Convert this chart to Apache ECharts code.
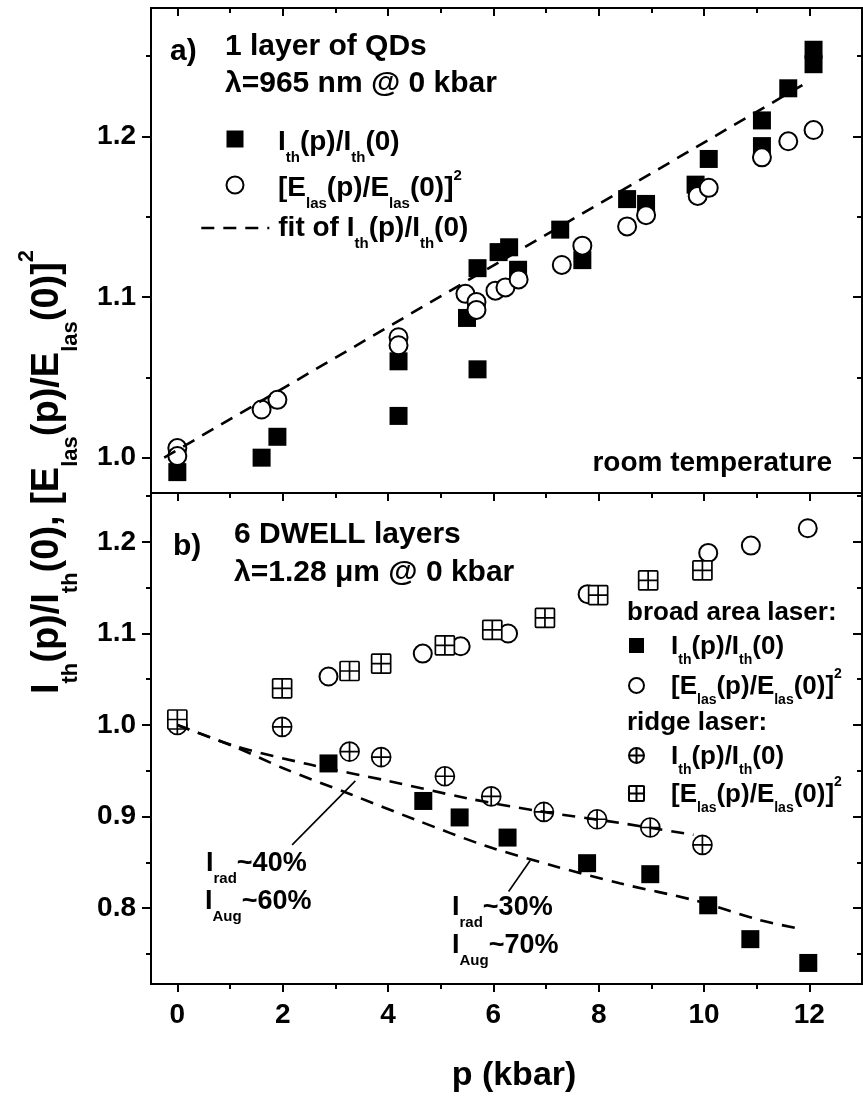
<!DOCTYPE html>
<html><head><meta charset="utf-8">
<script src="https://cdn.jsdelivr.net/npm/echarts@6/dist/echarts.min.js"></script>
<style>html,body{margin:0;padding:0;background:#fff}#c{width:863px;height:1096px}</style>
</head><body><div id="c"></div>
<script>
// ---------- tick values ----------
const xMajorTicks = [0, 2, 4, 6, 8, 10, 12];
const xMinorTicks = [1, 3, 5, 7, 9, 11];
const yTopMajorTicks = [1.0, 1.1, 1.2];
const yTopMinorTicks = [1.05, 1.15, 1.25];
const yBotMajorTicks = [0.8, 0.9, 1.0, 1.1, 1.2];
const yBotMinorTicks = [0.75, 0.85, 0.95, 1.05, 1.15, 1.25];

// ---------- panel a) 1 layer of QDs ----------
const qdIth = [[0,0.991],[1.6,1.0],[1.9,1.013],[4.2,1.026],[4.2,1.06],[5.5,1.087],[5.7,1.055],[5.7,1.118],
  [6.1,1.128],[6.3,1.131],[6.47,1.117],[7.27,1.142],[7.69,1.123],[8.54,1.161],[8.9,1.158],[9.84,1.17],
  [10.09,1.186],[11.1,1.194],[11.1,1.21],[11.6,1.23],[12.08,1.245],[12.08,1.254]];
const qdElas = [[0,1.006],[0,1.001],[1.6,1.03],[1.9,1.036],[4.2,1.075],[4.2,1.07],[5.47,1.102],[5.68,1.097],
  [5.68,1.092],[6.04,1.104],[6.23,1.106],[6.48,1.111],[7.3,1.12],[7.69,1.132],[8.54,1.144],[8.9,1.151],
  [9.88,1.163],[10.09,1.168],[11.1,1.187],[11.6,1.197],[12.08,1.204]];
const qdFit = [[-0.25,1.0],[12.0,1.2345]];

// ---------- panel b) 6 DWELL layers ----------
const broadIth = [[2.87,0.958],[4.67,0.917],[5.36,0.899],[6.27,0.877],[7.78,0.849],[8.98,0.837],[10.08,0.803],[10.88,0.766],[11.98,0.74]];
const broadElas = [[0,1.0],[2.87,1.053],[4.66,1.078],[5.38,1.086],[6.28,1.1],[7.79,1.143],[10.08,1.188],[10.89,1.196],[11.97,1.215]];
const ridgeIth = [[0,1.0],[1.99,0.998],[3.27,0.971],[3.87,0.965],[5.08,0.944],[5.96,0.922],[6.96,0.905],[7.97,0.897],[8.98,0.888],[9.97,0.869]];
const ridgeElas = [[0,1.006],[1.99,1.04],[3.27,1.059],[3.87,1.067],[5.08,1.087],[5.98,1.104],[6.98,1.117],[7.99,1.142],[8.94,1.158],[9.97,1.169]];
const fitRidge = [[0,1.0],[1.1,0.977],[2.5,0.957],[4.0,0.939],[5.5,0.92],[6.85,0.906],[8.4,0.893],[9.8,0.88]];
const fitBroad = [[0,1.0],[1.1,0.976],[2.0,0.953],[3.3,0.924],[4.5,0.897],[5.85,0.868],[7.15,0.846],[8.4,0.827],[9.85,0.808],[11.05,0.787],[11.85,0.777]];
const pointer40 = [[2.18,0.869],[3.38,0.939]];
const pointer30 = [[6.29,0.818],[6.70,0.852]];

// ---------- styling ----------
const FONT = '"Liberation Sans", Arial, Helvetica, sans-serif';
const X_MIN = -0.5, X_MAX = 13;
const TOP_MIN = 0.978, TOP_MAX = 1.28;
const BOT_MIN = 0.717, BOT_MAX = 1.2535;
const CROSS_CIRCLE = 'path://M10,0 A10,10 0 1,1 10,20 A10,10 0 1,1 10,0 Z M0,10 L20,10 M10,0 L10,20';
const CROSS_SQUARE = 'path://M1,0 L19,0 Q20,0 20,1 L20,19 Q20,20 19,20 L1,20 Q0,20 0,19 L0,1 Q0,0 1,0 Z M0,10 L20,10 M10,0 L10,20';

function mkRich(F, S, drop, rise) {
  const pm = Math.max(0, rise + S / 2 - F / 2) + 1;
  const base = {fontFamily: FONT, fontWeight: 'bold', color: '#000', verticalAlign: 'top'};
  return {F, pm, H: pm + F / 2 + drop + S / 2, styles: {
    m: Object.assign({}, base, {fontSize: F, lineHeight: F, padding: [pm, 0, 0, 0]}),
    s: Object.assign({}, base, {fontSize: S, lineHeight: S, padding: [pm + F / 2 + drop - S / 2, 0, 0, 0]}),
    u: Object.assign({}, base, {fontSize: S, lineHeight: S, padding: [pm + F / 2 - rise - S / 2, 0, 0, 0]})
  }};
}
const RT = mkRich(28, 15, 15, 13);
const RB = mkRich(26, 14, 14, 12);
const RA = mkRich(27, 15, 15, 13);
const RY = mkRich(38, 22, 23, 21);

const ITH = '{m|I}{s|th}{m|(p)/I}{s|th}{m|(0)}';
const ELAS = '{m|[E}{s|las}{m|(p)/E}{s|las}{m|(0)]}{u|2}';
const LABELS = {
  a_Ith: ITH, a_E: ELAS, a_fit: '{m|fit of I}{s|th}{m|(p)/I}{s|th}{m|(0)}',
  b_Ith: ITH, b_E: ELAS, r_Ith: ITH, r_E: ELAS
};

function xAx(grid, pos, ticks, len, inside, labels) {
  return {type: 'value', gridIndex: grid, position: pos, min: X_MIN, max: X_MAX,
    axisLine: {show: false, onZero: false}, splitLine: {show: false}, minorTick: {show: false},
    axisTick: {show: true, inside: inside, length: len, customValues: ticks, lineStyle: {color: '#000', width: 2}},
    axisLabel: labels ? {show: true, customValues: ticks, margin: 17, color: '#000', fontSize: 28,
      fontWeight: 'bold', fontFamily: FONT, formatter: v => String(v)} : {show: false}};
}
function yAx(grid, pos, mn, mx, ticks, len, inside, labels) {
  return {type: 'value', gridIndex: grid, position: pos, min: mn, max: mx,
    axisLine: {show: false, onZero: false}, splitLine: {show: false}, minorTick: {show: false},
    axisTick: {show: true, inside: inside, length: len, customValues: ticks, lineStyle: {color: '#000', width: 2}},
    axisLabel: labels ? {show: true, customValues: ticks, margin: 15, color: '#000', fontSize: 28,
      fontWeight: 'bold', fontFamily: FONT, formatter: v => v.toFixed(1)} : {show: false}};
}

const filledSq = {color: '#000', opacity: 1};
const openSym = {color: '#fff', borderColor: '#000', borderWidth: 2, opacity: 1};
const crossSym = {color: '#fff', borderColor: '#000', borderWidth: 1.7, opacity: 1};
const dash = {color: '#000', width: 2.6, type: [13, 9]};

function sc(name, data, xi, yi, symbol, size, style) {
  return {type: 'scatter', name, data, xAxisIndex: xi, yAxisIndex: yi, symbol, symbolSize: size,
    itemStyle: style, silent: true, animation: false};
}
function ln(name, data, xi, yi, smooth, extra) {
  return Object.assign({type: 'line', name, data, xAxisIndex: xi, yAxisIndex: yi, symbol: 'none',
    smooth: smooth, lineStyle: dash, itemStyle: {color: '#000'}, silent: true, animation: false}, extra || {});
}

function rtext(text, x, yMain, R, align, extra) {
  return Object.assign({type: 'text', x: x, y: yMain - R.pm - R.F / 2, z: 100, silent: true,
    style: {text, rich: R.styles, align: align || 'left', textAlign: align || 'left',
      verticalAlign: 'top', textVerticalAlign: 'top', fill: '#000'}}, extra || {});
}
function ptext(text, x, y, size, align) {
  return {type: 'text', x, y, z: 100, silent: true,
    style: {text, fill: '#000', font: 'bold ' + size + 'px ' + FONT, align: align || 'left',
      textAlign: align || 'left', verticalAlign: 'middle', textVerticalAlign: 'middle'}};
}
// padB: extra bottom padding of the label block, shifts the icon down relative to its label
function legendBox(data, iconCx, top, pitch, R, iconSize, textX, padB) {
  const left = iconCx - iconSize / 2;
  return {data, orient: 'vertical', left: left, top: top, padding: 0,
    itemWidth: iconSize, itemHeight: iconSize, itemGap: pitch - R.H, selectedMode: false,
    formatter: n => LABELS[n],
    textStyle: {rich: R.styles, padding: [0, 0, padB, textX - (left + iconSize + 5)]}};
}

const chart = echarts.init(document.getElementById('c'), null, {renderer: 'canvas'});
chart.setOption({
  animation: false,
  backgroundColor: '#fff',
  grid: [
    {left: 151, top: 8, width: 711, height: 485, show: true, borderColor: '#000', borderWidth: 2, containLabel: false, outerBoundsMode: 'none'},
    {left: 151, top: 493, width: 711, height: 491, show: true, borderColor: '#000', borderWidth: 2, containLabel: false, outerBoundsMode: 'none'}
  ],
  xAxis: [
    xAx(0, 'top', xMajorTicks, 8, true, false),
    xAx(0, 'top', xMinorTicks, 5, true, false),
    xAx(1, 'bottom', xMajorTicks, 8, false, true),
    xAx(1, 'bottom', xMinorTicks, 5, false, false),
    xAx(1, 'top', xMajorTicks, 8, true, false),
    xAx(1, 'top', xMinorTicks, 5, true, false)
  ],
  yAxis: [
    yAx(0, 'left', TOP_MIN, TOP_MAX, yTopMajorTicks, 9, false, true),
    yAx(0, 'left', TOP_MIN, TOP_MAX, yTopMinorTicks, 5, false, false),
    yAx(0, 'right', TOP_MIN, TOP_MAX, yTopMajorTicks, 9, true, false),
    yAx(0, 'right', TOP_MIN, TOP_MAX, yTopMinorTicks, 5, true, false),
    yAx(1, 'left', BOT_MIN, BOT_MAX, yBotMajorTicks, 9, false, true),
    yAx(1, 'left', BOT_MIN, BOT_MAX, yBotMinorTicks, 5, false, false),
    yAx(1, 'right', BOT_MIN, BOT_MAX, yBotMajorTicks, 9, true, false),
    yAx(1, 'right', BOT_MIN, BOT_MAX, yBotMinorTicks, 5, true, false)
  ],
  legend: [
    legendBox(['a_Ith', 'a_E'], 234, 121, 46, RT, 17, 277, 8),
    Object.assign(legendBox([{name: 'a_fit', itemStyle: {opacity: 0}}], 234, 207, 44, RT, 17, 277, 14),
      {left: 200, itemWidth: 68, textStyle: {rich: RT.styles, padding: [0, 0, 14, 4]}, lineStyle: {width: 2.6}}),
    legendBox(['b_Ith', 'b_E'], 635.5, 626.5, 40, RB, 15, 670, 12),
    legendBox(['r_Ith', 'r_E'], 635.5, 736.5, 38, RB, 15, 670, 12)
  ],
  series: [
    ln('a_fit', qdFit, 0, 0, false),
    sc('a_Ith', qdIth, 0, 0, 'rect', 18, filledSq),
    sc('a_E', qdElas, 0, 0, 'circle', 18, openSym),
    ln('r_fit', fitRidge, 2, 4, 0.3),
    ln('b_fit', fitBroad, 2, 4, 0.3, {markLine: {silent: true, animation: false, symbol: ['none', 'none'],
      label: {show: false}, lineStyle: {color: '#000', width: 1.6, type: 'solid'},
      data: [[{coord: pointer40[0]}, {coord: pointer40[1]}], [{coord: pointer30[0]}, {coord: pointer30[1]}]]}}),
    sc('b_Ith', broadIth, 2, 4, 'rect', 18, filledSq),
    sc('b_E', broadElas, 2, 4, 'circle', 18, openSym),
    sc('r_Ith', ridgeIth, 2, 4, CROSS_CIRCLE, 19, crossSym),
    sc('r_E', ridgeElas, 2, 4, CROSS_SQUARE, 19, crossSym)
  ],
  graphic: [
    ptext('a)', 170, 52, 30),
    ptext('1 layer of QDs', 225, 47, 30),
    ptext('\u03bb=965 nm @ 0 kbar', 225, 84, 30),
    ptext('room temperature', 832, 463, 28, 'right'),
    ptext('b)', 173, 547, 30),
    ptext('6 DWELL layers', 234, 535, 30),
    ptext('\u03bb=1.28 \u03bcm @ 0 kbar', 234, 573, 30),
    ptext('broad area laser:', 627, 613, 26),
    ptext('ridge laser:', 627, 723, 26),
    rtext('{m|I}{s|rad}{m|~40%}', 206, 864, RA),
    rtext('{m|I}{s|Aug}{m|~60%}', 205, 902, RA),
    rtext('{m|I}{s|rad}{m|~30%}', 452, 908, RA),
    rtext('{m|I}{s|Aug}{m|~70%}', 452, 946, RA),
    ptext('p (kbar)', 514, 1076, 34, 'center'),
    {type: 'text', x: 47.5 - RY.pm - RY.F / 2, y: 472, rotation: Math.PI / 2, z: 100, silent: true,
      style: {text: '{m|I}{s|th}{m|(p)/I}{s|th}{m|(0), [E}{s|las}{m|(p)/E}{s|las}{m|(0)]}{u|2}',
        rich: RY.styles, align: 'center', textAlign: 'center', verticalAlign: 'top', textVerticalAlign: 'top', fill: '#000'}}
  ]
});
</script></body></html>
